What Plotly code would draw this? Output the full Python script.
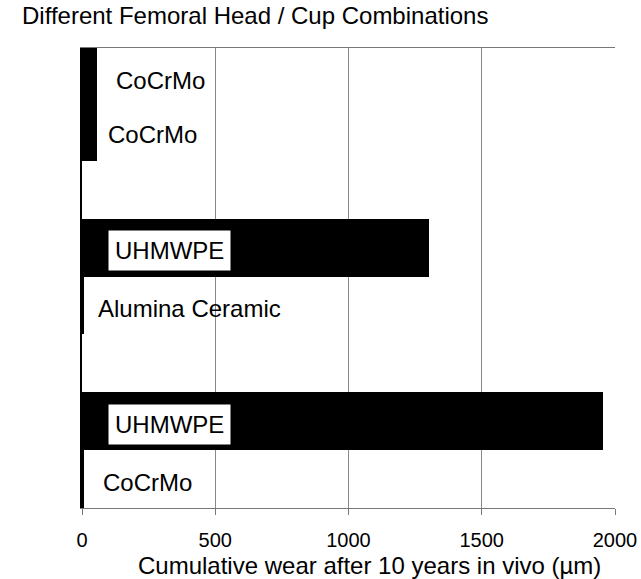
import plotly.graph_objects as go

# rows from bottom to top; blank rows are gaps between the pairs
rows = ["3 head", "3 cup", "gap b", "2 head", "2 cup", "gap a", "1 head", "1 cup"]
wear = [6, 1955, 0, 6, 1302, 0, 55, 55]
labels = ["CoCrMo", "UHMWPE", "", "Alumina Ceramic", "UHMWPE", "", "CoCrMo", "CoCrMo"]
label_x = [75, 99, 0, 56, 99, 0, 94, 124]
boxed = [False, True, False, False, True, False, False, False]

fig = go.Figure()
fig.add_trace(go.Bar(y=rows, x=wear, orientation="h",
                     marker=dict(color="black", line=dict(width=0)),
                     showlegend=False, hoverinfo="skip"))

for r, t, lx, b in zip(rows, labels, label_x, boxed):
    if not t:
        continue
    fig.add_annotation(x=lx, y=r, text=t, showarrow=False, xanchor="left",
                       yshift=-6 if r == "1 cup" else -3,
                       font=dict(size=24, color="black"),
                       bgcolor="white" if b else None,
                       borderpad=6 if b else 0)

# x axis title as a note, so it sits below the pushed-down tick labels
fig.add_annotation(x=0.54, y=-0.126, xref="paper", yref="paper",
                   text="Cumulative wear after 10 years in vivo (µm)",
                   showarrow=False, xanchor="center", yanchor="middle",
                   font=dict(size=24))

fig.update_layout(
    width=641, height=579,
    margin=dict(l=82, r=26, t=48, b=71),
    plot_bgcolor="white", paper_bgcolor="white",
    bargap=0,
    font=dict(family="Liberation Sans, Arial, sans-serif", color="black"),
    title=dict(text="Different Femoral Head / Cup Combinations",
               x=22 / 641, xanchor="left", y=1 - 16 / 579, yanchor="middle",
               font=dict(size=24)),
)
fig.update_xaxes(range=[0, 2000], tickvals=[0, 500, 1000, 1500, 2000],
                 showgrid=True, gridcolor="#888", gridwidth=1,
                 showline=True, linecolor="#777", linewidth=1, mirror=True,
                 ticks="outside", ticklen=6, tickcolor="#777",
                 ticklabelstandoff=8, automargin=False,
                 tickfont=dict(size=20), zeroline=False)
fig.update_yaxes(type="category", categoryorder="array", categoryarray=rows,
                 range=[-0.5, 7.45], showticklabels=False, ticks="",
                 showgrid=False, zeroline=False, automargin=False,
                 showline=True, linecolor="black", linewidth=2)

fig.write_html("out.html", config={"displayModeBar": False},
               post_script="document.body.style.margin='0';")
